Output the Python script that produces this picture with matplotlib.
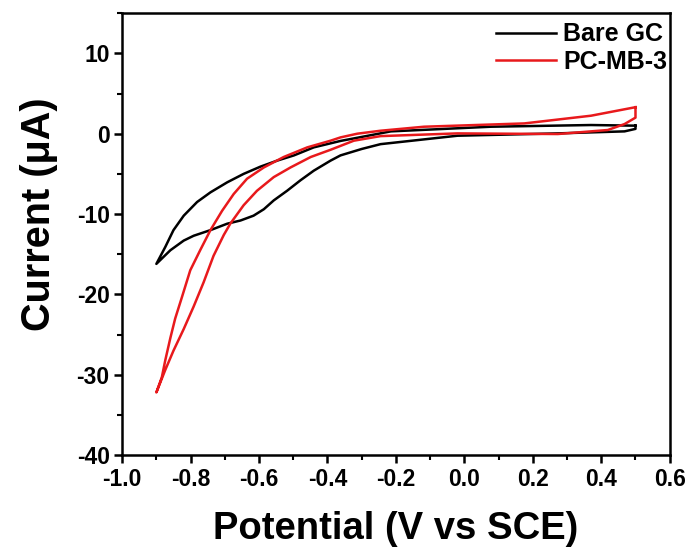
import matplotlib
matplotlib.use("Agg")
import matplotlib.pyplot as plt
from matplotlib.ticker import MultipleLocator

plt.rcParams['font.family'] = ['Liberation Sans', 'DejaVu Sans']
plt.rcParams['font.weight'] = 'bold'
plt.rcParams['axes.unicode_minus'] = False

# Bare GC cyclic voltammogram (closed loop, V vs SCE / uA)
bare_v = [0.50, 0.37, 0.078, -0.215, -0.30, -0.362, -0.440, -0.498, -0.547, -0.596, -0.645, -0.693,
          -0.742, -0.781, -0.820, -0.850, -0.874, -0.90,
          -0.859, -0.820, -0.791, -0.742, -0.693, -0.654, -0.616, -0.586, -0.557, -0.518, -0.479,
          -0.440, -0.391, -0.362, -0.30, -0.245, -0.02, 0.273, 0.468, 0.50, 0.50]
bare_i = [1.0, 1.08, 0.87, 0.29, -0.4, -0.9, -1.7, -2.7, -3.35, -4.1, -5.0, -6.05,
          -7.3, -8.5, -10.2, -12.0, -14.1, -16.2,
          -14.5, -13.3, -12.7, -12.0, -11.2, -10.8, -10.2, -9.4, -8.3, -7.1, -5.8,
          -4.6, -3.35, -2.7, -1.9, -1.3, -0.25, 0.04, 0.29, 0.6, 1.0]

# PC-MB-3 modified electrode
pc_v = [0.50, 0.37, 0.175, -0.118, -0.245, -0.313, -0.362, -0.391, -0.459, -0.528, -0.586, -0.635,
        -0.674, -0.708, -0.742, -0.772, -0.801, -0.825, -0.845, -0.859, -0.874, -0.884, -0.90,
        -0.874, -0.850, -0.820, -0.791, -0.762, -0.733, -0.703, -0.684, -0.645, -0.606, -0.557,
        -0.508, -0.449, -0.391, -0.323, -0.245, -0.02, 0.273, 0.419, 0.468, 0.50, 0.50]
pc_i = [3.3, 2.24, 1.28, 0.87, 0.37, 0.0, -0.46, -0.87, -1.7, -2.9, -4.2, -5.6,
        -7.5, -9.6, -12.0, -14.5, -17.0, -20.3, -23.0, -25.4, -28.2, -30.3, -32.2,
        -29.4, -27.0, -24.3, -21.5, -18.5, -15.2, -12.6, -11.2, -8.9, -7.1, -5.4,
        -4.2, -2.9, -2.0, -0.87, -0.3, 0.04, -0.04, 0.46, 1.2, 2.0, 3.3]

x_ticks = [-1.0, -0.8, -0.6, -0.4, -0.2, 0.0, 0.2, 0.4, 0.6]
y_ticks = [-40, -30, -20, -10, 0, 10]

fig = plt.figure(figsize=(6.94, 5.49), dpi=100)
ax = fig.add_axes([0.176, 0.171, 0.789, 0.805])

ax.plot(bare_v, bare_i, color='black', lw=1.8, label='Bare GC')
ax.plot(pc_v, pc_i, color='#e8191c', lw=1.8, label='PC-MB-3')

ax.set_xticks(x_ticks)
ax.set_xticklabels([f'{t:.1f}' for t in x_ticks])
ax.set_yticks(y_ticks)
ax.xaxis.set_minor_locator(MultipleLocator(0.1))
ax.yaxis.set_minor_locator(MultipleLocator(5))
ax.set_xlim(-1.0, 0.6)
ax.set_ylim(-40, 15)

for s in ax.spines.values():
    s.set_linewidth(1.8)
ax.tick_params(which='major', direction='out', length=6, width=1.8, labelsize=16.5, pad=3)
ax.tick_params(which='minor', direction='out', length=3.5, width=1.5)

ax.set_xlabel('Potential (V vs SCE)', fontsize=27.5, fontweight='bold', labelpad=15)
ax.set_ylabel('Current (\u03bcA)', fontsize=28.5, fontweight='bold')
ax.yaxis.set_label_coords(-0.118, 0.545)

ax.legend(loc='upper right', bbox_to_anchor=(1.0, 0.985), frameon=False, fontsize=18,
          handlelength=2.4, borderaxespad=0.0, labelspacing=0.15, handletextpad=0.3, borderpad=0.1)

fig.savefig('out.png', dpi=100)
